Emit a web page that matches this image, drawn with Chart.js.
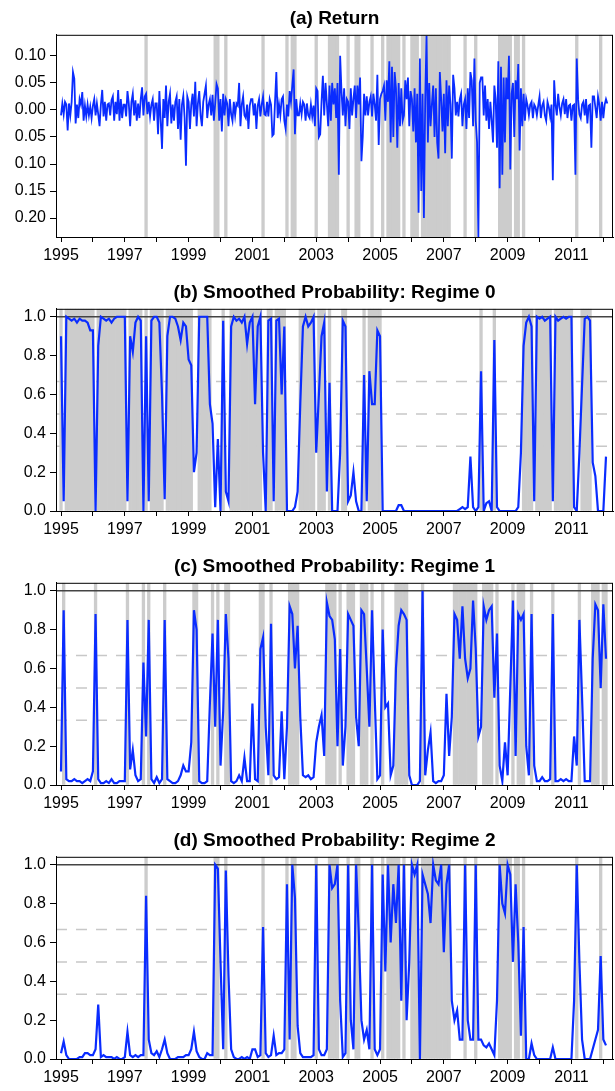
<!DOCTYPE html>
<html lang="en">
<head>
<meta charset="UTF-8">
<title>Returns and Smoothed Regime Probabilities</title>
<script src="https://cdn.jsdelivr.net/npm/chart.js"></script>
<style>
    body { margin: 0; padding: 0; background: #fff; overflow: hidden; }
    .panel { position: absolute; left: 0; width: 615px; height: 274px; }
</style>
</head>
<body>
<div class="panel" style="top:0px"><canvas id="chart-ret" width="615" height="274"></canvas></div>
<div class="panel" style="top:274px"><canvas id="chart-r0" width="615" height="274"></canvas></div>
<div class="panel" style="top:548px"><canvas id="chart-r1" width="615" height="274"></canvas></div>
<div class="panel" style="top:822px"><canvas id="chart-r2" width="615" height="274"></canvas></div>

<script>
    const startYear = 1995;

    // weekly returns sampled twice a month, 1995 to early 2012
    const returns = [
        -0.01, 0.012, -0.008, 0.015, 0.01, -0.038, 0.012, -0.01, 0.015, 0.07, 0.058, -0.025, 0.01, -0.015, 0.02, 0.01, 0.033, -0.02, 0.008, -0.012, 0.01, -0.01, 0.006, -0.015,
        0.008, 0.02, -0.01, 0.012, -0.008, -0.03, 0.01, 0.037, -0.012, 0.015, -0.02, 0.01, 0.012, -0.01, 0.018, 0.025, -0.02, 0.015, -0.008, 0.037, -0.02, 0.02, -0.015, 0.01,
        0.01, -0.012, 0.035, 0.012, -0.03, 0.015, 0.03, -0.01, 0.018, -0.02, 0.012, -0.015, 0.02, 0.042, -0.01, 0.025, 0.03, -0.008, 0.015, -0.012, 0.01, 0.02, -0.02, 0.012,
        0.012, -0.045, 0.035, -0.02, -0.072, 0.02, -0.015, 0.045, -0.03, 0.015, 0.03, -0.025, 0.01, -0.02, 0.015, 0.025, -0.035, 0.02, -0.055, 0.01, 0.026, -0.015, -0.103, 0.025,
        0.015, -0.035, 0.01, 0.03, -0.012, 0.052, -0.03, 0.012, 0.035, -0.01, -0.03, 0.015, 0.03, 0.045, -0.015, 0.01, 0.02, -0.01, 0.028, -0.02, 0.012, 0.048, 0.04, -0.02,
        0.02, -0.04, 0.03, -0.01, 0.02, 0.012, -0.03, 0.02, -0.008, -0.02, 0.015, -0.01, 0.012, 0.008, 0.05, -0.03, 0.01, 0.025, -0.01, -0.015, 0.01, -0.035, 0.008, 0.02,
        0.02, -0.01, 0.012, -0.035, 0.008, 0.02, -0.012, 0.01, 0.025, -0.008, -0.01, 0.015, -0.012, 0.02, 0.01, -0.048, -0.045, 0.015, 0.07, -0.015, 0.01, -0.01, 0.02, 0.025,
        -0.02, -0.035, 0.01, -0.012, 0.035, 0.015, 0.045, 0.075, -0.045, 0.02, -0.01, -0.01, 0.012, -0.008, 0.015, 0.01, -0.02, 0.012, -0.01, -0.015, 0.01, -0.012, 0.008, -0.03,
        0.04, 0.035, -0.05, -0.045, 0.015, 0.063, -0.01, 0.05, 0.012, -0.03, 0.045, -0.02, 0.05, 0.01, 0.04, -0.015, 0.05, -0.12, 0.1, 0.035, -0.01, 0.04, -0.03, 0.02,
        0.015, -0.035, 0.04, -0.01, 0.02, 0.045, -0.015, 0.045, 0.01, 0.06, -0.095, -0.05, 0.03, -0.01, 0.025, -0.01, 0.015, 0.025, -0.012, 0.03, 0.01, -0.02, 0.065, -0.065,
        0.02, 0.03, 0.035, 0.045, -0.02, 0.055, 0.015, 0.09, -0.06, 0.08, -0.05, 0.07, 0.04, -0.07, 0.05, -0.03, 0.04, -0.02, -0.01, 0.055, 0.02, 0.06, -0.03, 0.035,
        0.02, -0.04, 0.04, -0.06, 0.03, -0.19, 0.095, -0.15, 0.03, -0.2, 0.02, 0.137, -0.06, 0.05, -0.03, 0.01, 0.045, -0.05, 0.04, -0.06, -0.09, 0.07, 0.02, -0.04,
        0.03, -0.08, 0.055, -0.03, 0.045, 0.01, -0.09, 0.065, 0.04, -0.01, 0.015, -0.012, 0.02, 0.03, -0.03, 0.01, 0.02, -0.035, 0.04, -0.015, 0.07, 0.055, -0.03, 0.095,
        -0.02, -0.06, -0.235, 0.05, 0.06, 0.06, -0.01, 0.045, -0.02, 0.02, -0.035, 0.015, -0.02, -0.06, 0.045, 0.02, -0.07, 0.09, -0.145, 0.08, -0.12, 0.06, -0.06, 0.06,
        0.02, 0.1, -0.11, 0.03, 0.05, -0.05, 0.055, 0.02, 0.085, -0.075, 0.04, -0.03, 0.03, -0.02, 0.02, 0.008, -0.01, 0.01, 0.015, -0.015, 0.01, 0.005, -0.01, 0.008,
        0.025, -0.015, 0.008, 0.015, -0.01, -0.02, 0.015, 0.005, -0.012, 0.01, -0.13, 0.055, 0.01, -0.01, 0.03, 0.005, -0.01, 0.012, 0.02, -0.008, 0.02, -0.015, 0.008, 0.01,
        -0.02, 0.008, 0.01, -0.12, 0.095, 0.02, -0.008, -0.015, 0.01, 0.015, -0.01, 0.02, -0.025, 0.008, 0.01, -0.07, 0.025, 0.025, 0.005, -0.015, 0.025, 0.01, -0.02, 0.015,
        -0.015, 0.01, 0.02, 0.012
    ];

    // smoothed probabilities, one value per month
    const regime0 = [
        0.90, 0.05, 1.00, 0.99, 0.98, 0.99, 0.97, 0.99, 0.98, 0.98, 0.97, 0.93,
        0.93, 0.00, 0.85, 1.00, 0.99, 0.98, 0.99, 0.97, 0.99, 1.00, 1.00, 1.00,
        1.00, 0.05, 0.90, 0.82, 0.97, 1.00, 0.98, 0.00, 0.90, 0.05, 0.98, 1.00,
        1.00, 0.97, 0.60, 0.06, 0.90, 1.00, 1.00, 0.99, 0.95, 0.88, 0.97, 0.95,
        0.78, 0.75, 0.20, 0.30, 1.00, 1.00, 1.00, 1.00, 0.55, 0.45, 0.02, 0.37,
        0.00, 0.98, 0.10, 0.05, 0.95, 1.00, 0.98, 0.99, 0.97, 1.00, 0.86, 0.97,
        1.00, 0.55, 0.95, 1.00, 0.30, 0.00, 0.98, 0.99, 0.05, 0.98, 0.99, 0.60,
        0.95, 0.00, 0.00, 0.00, 0.02, 0.10, 0.55, 0.95, 1.00, 0.95, 0.97, 1.00,
        0.30, 0.60, 0.90, 0.97, 0.10, 0.66, 0.00, 0.00, 0.00, 0.30, 0.98, 0.95,
        0.05, 0.08, 0.20, 0.05, 0.00, 0.00, 0.70, 0.05, 0.72, 0.55, 0.55, 0.93,
        0.90, 0.00, 0.00, 0.00, 0.00, 0.00, 0.00, 0.03, 0.03, 0.00, 0.00, 0.00,
        0.00, 0.00, 0.00, 0.00, 0.00, 0.00, 0.00, 0.00, 0.00, 0.00, 0.00, 0.00,
        0.00, 0.00, 0.00, 0.00, 0.00, 0.00, 0.01, 0.02, 0.01, 0.02, 0.28, 0.02,
        0.00, 0.02, 0.72, 0.00, 0.04, 0.05, 0.00, 0.88, 0.02, 0.00, 0.00, 0.00,
        0.00, 0.00, 0.00, 0.00, 0.02, 0.30, 0.85, 0.97, 1.00, 0.95, 0.05, 1.00,
        0.99, 1.00, 0.98, 0.99, 1.00, 0.05, 1.00, 0.98, 0.99, 1.00, 0.99, 1.00,
        1.00, 0.02, 0.00, 0.30, 0.65, 0.99, 1.00, 0.98, 0.25, 0.18, 0.00, 0.00,
        0.00, 0.28
    ];
    const regime1 = [
        0.07, 0.90, 0.03, 0.02, 0.02, 0.03, 0.02, 0.02, 0.01, 0.02, 0.03, 0.02,
        0.07, 0.88, 0.03, 0.01, 0.01, 0.02, 0.01, 0.03, 0.01, 0.01, 0.02, 0.02,
        0.02, 0.85, 0.08, 0.18, 0.05, 0.02, 0.03, 0.63, 0.25, 0.85, 0.03, 0.01,
        0.04, 0.01, 0.03, 0.85, 0.03, 0.02, 0.01, 0.01, 0.02, 0.05, 0.10, 0.07,
        0.07, 0.22, 0.90, 0.80, 0.02, 0.01, 0.01, 0.02, 0.42, 0.78, 0.30, 0.85,
        0.10, 0.38, 0.88, 0.65, 0.02, 0.01, 0.02, 0.05, 0.02, 0.14, 0.02, 0.02,
        0.42, 0.03, 0.02, 0.70, 0.76, 0.30, 0.05, 0.83, 0.05, 0.03, 0.04, 0.38,
        0.03, 0.30, 0.92, 0.88, 0.60, 0.82, 0.35, 0.05, 0.04, 0.05, 0.03, 0.04,
        0.22, 0.30, 0.36, 0.15, 0.94, 0.87, 0.85, 0.75, 0.20, 0.70, 0.10, 0.30,
        0.88, 0.85, 0.82, 0.35, 0.20, 0.90, 0.88, 0.60, 0.30, 0.90, 0.45, 0.03,
        0.05, 0.80, 0.40, 0.42, 0.05, 0.10, 0.60, 0.82, 0.90, 0.88, 0.85, 0.05,
        0.00, 0.00, 0.00, 0.02, 1.00, 0.05, 0.18, 0.27, 0.02, 0.01, 0.02, 0.02,
        0.05, 0.47, 0.15, 0.35, 0.88, 0.85, 0.65, 0.92, 0.65, 0.55, 0.60, 0.95,
        0.70, 0.25, 0.30, 0.92, 0.85, 0.90, 0.92, 0.45, 0.78, 0.10, 0.02, 0.22,
        0.05, 0.50, 0.95, 0.15, 0.88, 0.85, 0.88, 0.20, 0.05, 0.88, 0.10, 0.02,
        0.02, 0.04, 0.02, 0.02, 0.03, 0.88, 0.02, 0.02, 0.03, 0.02, 0.03, 0.02,
        0.02, 0.25, 0.10, 0.85, 0.45, 0.02, 0.02, 0.02, 0.65, 0.93, 0.90, 0.50,
        0.93, 0.65
    ];
    const regime2 = [
        0.03, 0.09, 0.02, 0.00, 0.00, 0.00, 0.00, 0.01, 0.01, 0.03, 0.03, 0.02,
        0.02, 0.05, 0.28, 0.01, 0.02, 0.01, 0.01, 0.01, 0.00, 0.01, 0.00, 0.00,
        0.01, 0.14, 0.02, 0.01, 0.02, 0.01, 0.02, 0.02, 0.84, 0.10, 0.03, 0.02,
        0.04, 0.01, 0.05, 0.10, 0.03, 0.00, 0.00, 0.00, 0.01, 0.01, 0.01, 0.02,
        0.02, 0.05, 0.14, 0.04, 0.01, 0.00, 0.00, 0.03, 0.02, 0.02, 1.00, 0.98,
        0.50, 0.05, 0.97, 0.43, 0.05, 0.01, 0.00, 0.00, 0.01, 0.00, 0.01, 0.00,
        0.05, 0.05, 0.01, 0.02, 0.68, 0.03, 0.01, 0.02, 0.12, 0.02, 0.03, 0.03,
        0.05, 0.90, 0.10, 1.00, 0.83, 0.17, 0.03, 0.01, 0.01, 0.01, 0.01, 0.02,
        1.00, 0.05, 0.02, 0.02, 0.05, 1.00, 0.88, 0.90, 1.00, 0.30, 0.01, 0.03,
        1.00, 0.20, 0.05, 1.00, 0.65, 0.20, 0.10, 0.15, 0.05, 1.00, 0.05, 0.02,
        0.05, 0.95, 0.45, 1.00, 0.60, 0.90, 0.70, 1.00, 0.30, 1.00, 0.20, 0.50,
        1.00, 0.95, 1.00, 0.00, 0.95, 0.90, 0.85, 0.70, 1.00, 0.92, 0.90, 1.00,
        0.55, 0.90, 1.00, 0.30, 0.20, 0.25, 0.10, 0.10, 1.00, 0.20, 0.10, 0.10,
        1.00, 0.10, 0.10, 0.07, 0.06, 0.08, 0.05, 0.02, 0.30, 1.00, 0.80, 0.75,
        1.00, 0.95, 0.50, 0.90, 0.60, 0.12, 0.68, 0.00, 0.00, 0.08, 0.02, 0.00,
        0.00, 0.00, 0.00, 0.00, 0.00, 0.06, 0.00, 0.00, 0.00, 0.00, 0.00, 0.00,
        0.00, 0.30, 1.00, 0.50, 0.10, 0.00, 0.00, 0.00, 0.05, 0.10, 0.15, 0.53,
        0.10, 0.07
    ];

    const returnTicks = [-0.20, -0.15, -0.10, -0.05, 0.00, 0.05, 0.10];
    const probTicks = [0.0, 0.2, 0.4, 0.6, 0.8, 1.0];
    const refLevels = [1 / 3, 1 / 2, 2 / 3];
    const yearTicks = [1995, 1996, 1997, 1998, 1999, 2000, 2001, 2002, 2003,
                       2004, 2005, 2006, 2007, 2008, 2009, 2010, 2011, 2012];

    const xMin = 1994.843, xMax = 2012.303;
    const blue = '#0a2cff';
    const shade = '#cccccc';
    const font = '"Liberation Sans", Arial, sans-serif';

    Chart.defaults.font.family = font;
    Chart.defaults.color = '#000';

    const frame = {
        id: 'frame',
        afterDatasetsDraw(chart) {
            const { ctx, chartArea: a } = chart;
            ctx.save();
            ctx.strokeStyle = '#000';
            ctx.lineWidth = 1;
            ctx.strokeRect(a.left + 0.5, a.top + 0.5, a.right - a.left - 1, a.bottom - a.top);
            ctx.restore();
        }
    };

    function makePanel(id, title, series, perYear, yMin, yMax, yTicks, fmt, regime, withRefs) {
        const datasets = [{
            type: 'line',
            data: series.map((v, i) => ({ x: startYear + i / perYear, y: v })),
            borderColor: blue,
            borderWidth: perYear > 12 ? 1.8 : 2.2,
            pointRadius: 0,
            tension: 0,
            order: 0
        }, {
            type: 'bar',
            data: regime.map((p, i) => ({ x: startYear + i / 12, y: p > 0.5 ? [yMin, yMax] : null }))
                        .filter(d => d.y !== null),
            backgroundColor: shade,
            borderWidth: 0,
            barPercentage: 1,
            categoryPercentage: 1,
            order: 2
        }];
        if (withRefs) {
            datasets.push({
                type: 'line',
                data: [{ x: xMin, y: 1 }, { x: xMax, y: 1 }],
                borderColor: '#444',
                borderWidth: 1.5,
                pointRadius: 0,
                order: 1
            });
            refLevels.forEach(lvl => datasets.push({
                type: 'line',
                data: [{ x: xMin, y: lvl }, { x: xMax, y: lvl }],
                borderColor: '#c8c8c8',
                borderWidth: 1.5,
                borderDash: [11, 9],
                pointRadius: 0,
                order: 3
            }));
        }

        new Chart(document.getElementById(id), {
            type: 'line',
            data: { datasets },
            options: {
                responsive: false,
                animation: false,
                events: [],
                layout: { padding: { left: 0, right: 2, top: 0, bottom: 9 } },
                plugins: {
                    legend: { display: false },
                    tooltip: { enabled: false },
                    title: {
                        display: true,
                        text: title,
                        fullSize: false,
                        color: '#000',
                        font: { size: 19, weight: 'bold', family: font, lineHeight: 1.2 },
                        padding: { top: 7, bottom: 5 }
                    }
                },
                scales: {
                    x: {
                        type: 'linear',
                        min: xMin,
                        max: xMax,
                        offset: false,
                        afterBuildTicks: s => { s.ticks = yearTicks.map(v => ({ value: v })); },
                        afterFit: s => { s.height = 28; },
                        ticks: {
                            autoSkip: false,
                            maxRotation: 0,
                            padding: 4,
                            color: '#000',
                            font: { size: 16 },
                            callback: v => (v % 2 === 1 ? String(v) : '')
                        },
                        grid: { drawOnChartArea: false, offset: false, tickLength: 5, color: '#000' },
                        border: { color: '#000' }
                    },
                    y: {
                        type: 'linear',
                        min: yMin,
                        max: yMax,
                        afterBuildTicks: s => { s.ticks = yTicks.map(v => ({ value: v })); },
                        afterFit: s => { s.width = 56; },
                        ticks: {
                            padding: 4,
                            color: '#000',
                            font: { size: 16 },
                            callback: fmt
                        },
                        grid: { drawOnChartArea: false, tickLength: 6, color: '#000' },
                        border: { color: '#000' }
                    }
                }
            },
            plugins: [frame]
        });
    }

    const retFmt = v => Math.abs(v).toFixed(2);
    const probFmt = v => v.toFixed(1);

    makePanel('chart-ret', '(a) Return', returns, 24, -0.235, 0.139, returnTicks, retFmt, regime2, false);
    makePanel('chart-r0', '(b) Smoothed Probability: Regime 0', regime0, 12, 0, 1.041, probTicks, probFmt, regime0, true);
    makePanel('chart-r1', '(c) Smoothed Probability: Regime 1', regime1, 12, 0, 1.041, probTicks, probFmt, regime1, true);
    makePanel('chart-r2', '(d) Smoothed Probability: Regime 2', regime2, 12, 0, 1.041, probTicks, probFmt, regime2, true);
</script>
</body>
</html>
